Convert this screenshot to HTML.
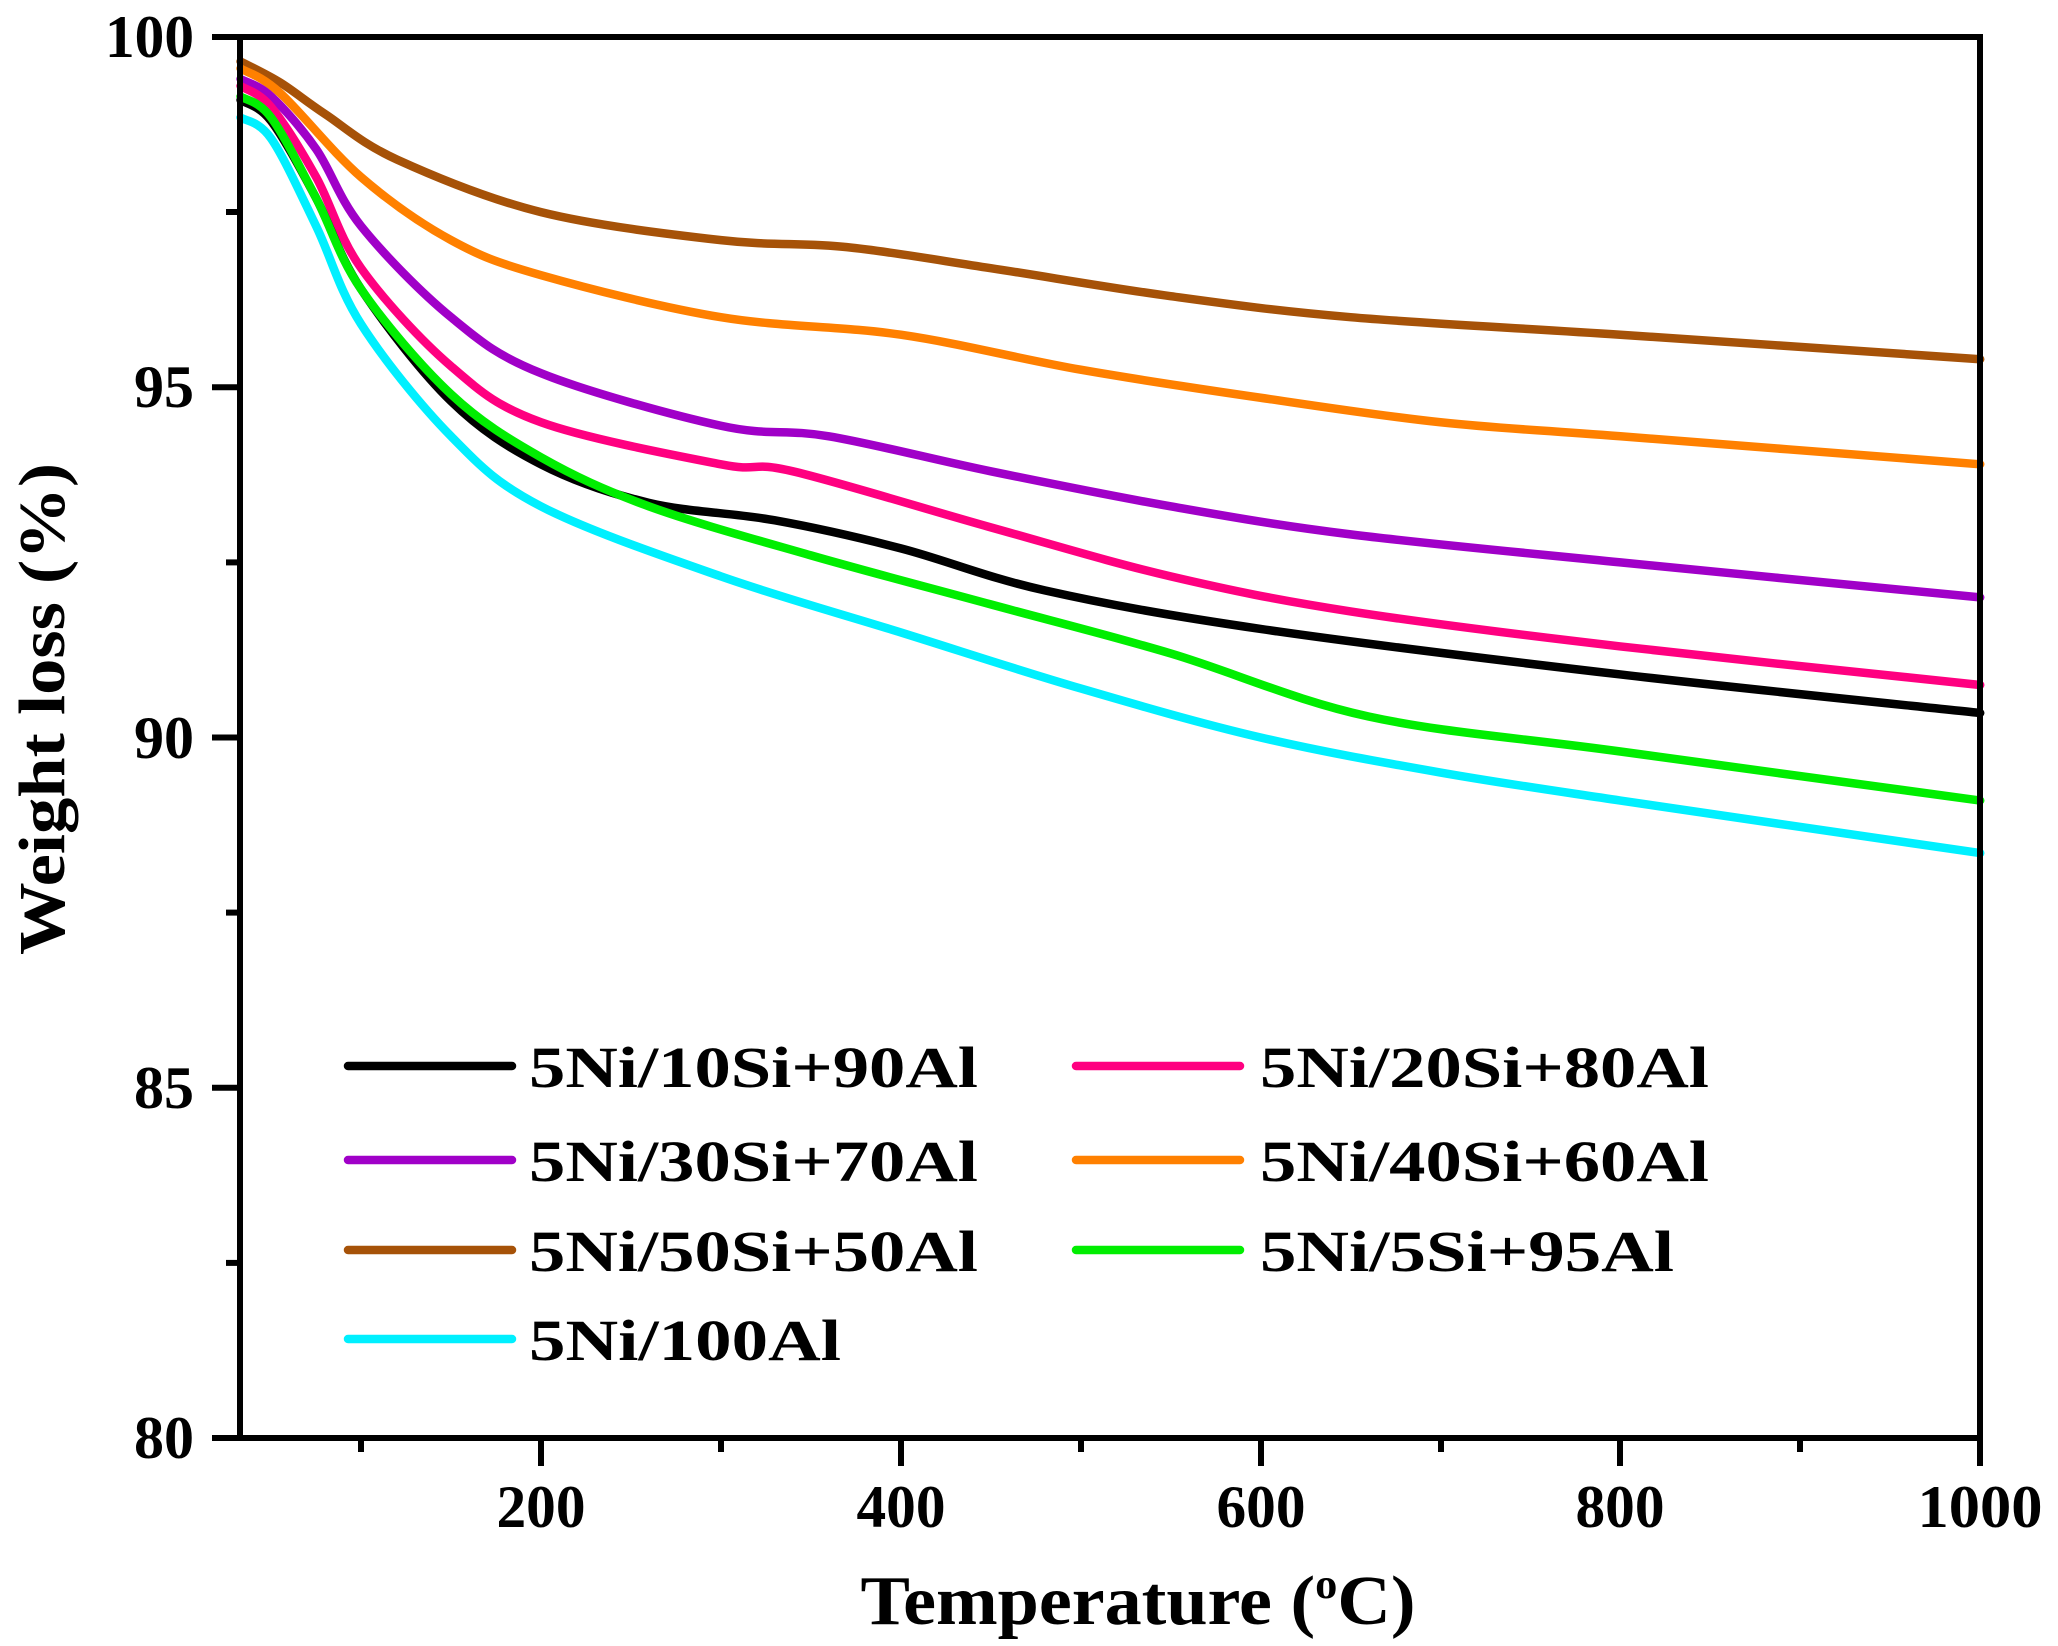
<!DOCTYPE html>
<html><head><meta charset="utf-8"><style>
html,body{margin:0;padding:0;background:#fff;}
svg{display:block;}
text{font-family:"Liberation Serif",serif;font-weight:bold;fill:#000;}
</style></head><body>
<svg id="s" width="2058" height="1646" viewBox="0 0 2058 1646" xmlns="http://www.w3.org/2000/svg">
<g id="curves" fill="none" stroke-width="8.5" stroke-linejoin="round" stroke-linecap="round"></g>
<g stroke="#000" stroke-width="6" fill="none">
<rect x="240" y="37" width="1740" height="1401"/>
<line x1="212" y1="37" x2="240" y2="37"/>
<line x1="212" y1="387.25" x2="240" y2="387.25"/>
<line x1="212" y1="737.5" x2="240" y2="737.5"/>
<line x1="212" y1="1087.75" x2="240" y2="1087.75"/>
<line x1="212" y1="1438" x2="240" y2="1438"/>
<line x1="226" y1="212" x2="240" y2="212"/>
<line x1="226" y1="562.4" x2="240" y2="562.4"/>
<line x1="226" y1="912.6" x2="240" y2="912.6"/>
<line x1="226" y1="1262.9" x2="240" y2="1262.9"/>
<line x1="541" y1="1438" x2="541" y2="1466"/>
<line x1="901" y1="1438" x2="901" y2="1466"/>
<line x1="1261" y1="1438" x2="1261" y2="1466"/>
<line x1="1620" y1="1438" x2="1620" y2="1466"/>
<line x1="1980" y1="1438" x2="1980" y2="1466"/>
<line x1="361" y1="1438" x2="361" y2="1452"/>
<line x1="721" y1="1438" x2="721" y2="1452"/>
<line x1="1081" y1="1438" x2="1081" y2="1452"/>
<line x1="1441" y1="1438" x2="1441" y2="1452"/>
<line x1="1800" y1="1438" x2="1800" y2="1452"/>
</g>
<g font-size="60" text-anchor="end">
<text x="194" y="57" textLength="89" lengthAdjust="spacingAndGlyphs">100</text>
<text x="194" y="407" textLength="60" lengthAdjust="spacingAndGlyphs">95</text>
<text x="194" y="758" textLength="60" lengthAdjust="spacingAndGlyphs">90</text>
<text x="194" y="1108" textLength="60" lengthAdjust="spacingAndGlyphs">85</text>
<text x="194" y="1458" textLength="60" lengthAdjust="spacingAndGlyphs">80</text>
</g>
<g font-size="60" text-anchor="middle">
<text x="541" y="1527" textLength="89" lengthAdjust="spacingAndGlyphs">200</text>
<text x="901" y="1527" textLength="89" lengthAdjust="spacingAndGlyphs">400</text>
<text x="1261" y="1527" textLength="89" lengthAdjust="spacingAndGlyphs">600</text>
<text x="1620" y="1527" textLength="89" lengthAdjust="spacingAndGlyphs">800</text>
<text x="1980" y="1527" textLength="125" lengthAdjust="spacingAndGlyphs">1000</text>
</g>
<text x="1138" y="1624" font-size="70" text-anchor="middle" textLength="555" lengthAdjust="spacingAndGlyphs">Temperature (<tspan font-size="42" dy="-26">o</tspan><tspan dy="26">C)</tspan></text>
<text transform="translate(64,709) rotate(-90)" font-size="66" text-anchor="middle" textLength="492" lengthAdjust="spacingAndGlyphs">Weight loss (%)</text>
<g stroke-width="8.5" stroke-linecap="round">
<line x1="348" y1="1066" x2="512" y2="1066" stroke="#000"/>
<line x1="1076" y1="1066" x2="1240" y2="1066" stroke="#ff0080"/>
<line x1="348" y1="1160" x2="512" y2="1160" stroke="#a000c8"/>
<line x1="1076" y1="1160" x2="1240" y2="1160" stroke="#ff8000"/>
<line x1="348" y1="1250" x2="512" y2="1250" stroke="#a65208"/>
<line x1="1076" y1="1250" x2="1240" y2="1250" stroke="#00ee00"/>
<line x1="348" y1="1339" x2="512" y2="1339" stroke="#00f0ff"/>
</g>
<g font-size="58">
<text x="529" y="1087" textLength="449" lengthAdjust="spacingAndGlyphs">5Ni/10Si+90Al</text>
<text x="1260" y="1087" textLength="449" lengthAdjust="spacingAndGlyphs">5Ni/20Si+80Al</text>
<text x="529" y="1181" textLength="449" lengthAdjust="spacingAndGlyphs">5Ni/30Si+70Al</text>
<text x="1260" y="1181" textLength="449" lengthAdjust="spacingAndGlyphs">5Ni/40Si+60Al</text>
<text x="529" y="1271" textLength="449" lengthAdjust="spacingAndGlyphs">5Ni/50Si+50Al</text>
<text x="1260" y="1271" textLength="414" lengthAdjust="spacingAndGlyphs">5Ni/5Si+95Al</text>
<text x="529" y="1360" textLength="312" lengthAdjust="spacingAndGlyphs">5Ni/100Al</text>
</g>
</svg>
<script>
var X=function(T){return 541+(T-200)*1.799;};
var Y=function(W){return 37+(100-W)*70.05;};
var S=[
["#a65208",[[33,99.65],[55,99.35],[80,98.9],[120,98.25],[200,97.5],[300,97.1],[370,97.0],[450,96.7],[550,96.3],[650,96.0],[800,95.75],[1000,95.4]]],
["#ff8000",[[33,99.55],[55,99.2],[100,98.0],[150,97.1],[200,96.6],[300,96.0],[400,95.75],[500,95.25],[600,94.85],[700,94.5],[800,94.3],[1000,93.9]]],
["#a000c8",[[33,99.4],[50,99.15],[75,98.4],[100,97.3],[150,96.0],[200,95.2],[300,94.45],[360,94.3],[450,93.8],[550,93.3],[650,92.9],[800,92.5],[1000,92.0]]],
["#ff0080",[[33,99.3],[50,99.0],[75,98.0],[100,96.7],[150,95.3],[200,94.5],[300,93.9],[340,93.8],[450,93.0],[550,92.3],[650,91.8],[800,91.3],[1000,90.75]]],
["#000000",[[33,99.1],[50,98.8],[75,97.7],[100,96.4],[150,94.8],[200,93.9],[260,93.35],[330,93.1],[400,92.7],[480,92.1],[600,91.55],[800,90.9],[1000,90.35]]],
["#00ee00",[[33,99.15],[50,98.85],[75,97.7],[100,96.4],[150,94.9],[200,94.0],[260,93.3],[350,92.6],[450,91.9],[550,91.2],[660,90.3],[800,89.8],[1000,89.1]]],
["#00f0ff",[[33,98.85],[50,98.55],[75,97.3],[100,95.9],[150,94.3],[200,93.3],[300,92.3],[400,91.5],[500,90.7],[600,90.0],[700,89.5],[800,89.1],[1000,88.35]]]
];
var g=document.getElementById("curves");
S.forEach(function(s){
 var p=s[1].map(function(a){return [X(a[0]),Y(a[1])];});
 var d="M"+p[0][0]+","+p[0][1];
 for(var i=0;i<p.length-1;i++){
  var p0=p[i-1]||p[i],p1=p[i],p2=p[i+1],p3=p[i+2]||p2;
  var c1=[p1[0]+(p2[0]-p0[0])/6,p1[1]+(p2[1]-p0[1])/6];
  var c2=[p2[0]-(p3[0]-p1[0])/6,p2[1]-(p3[1]-p1[1])/6];
  d+="C"+c1[0]+","+c1[1]+" "+c2[0]+","+c2[1]+" "+p2[0]+","+p2[1];
 }
 var e=document.createElementNS("http://www.w3.org/2000/svg","path");
 e.setAttribute("d",d);e.setAttribute("stroke",s[0]);g.appendChild(e);
});
</script>
</body></html>
